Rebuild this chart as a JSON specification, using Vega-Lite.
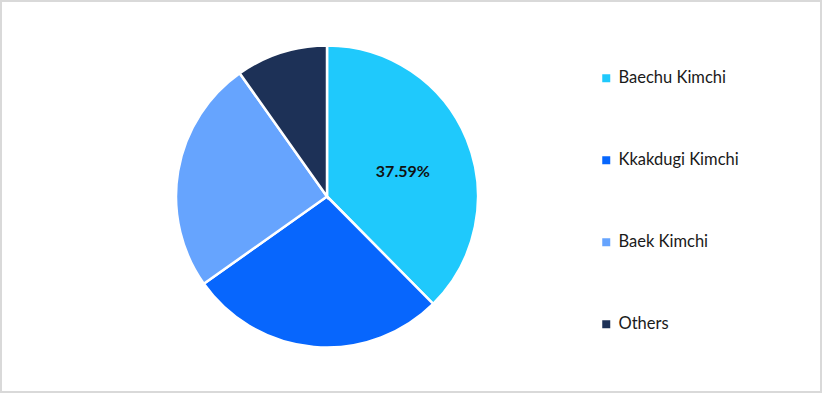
{
  "$schema": "https://vega.github.io/schema/vega-lite/v6.json",
  "width": 822,
  "height": 393,
  "autosize": {"type": "fit", "contains": "padding"},
  "padding": 1,
  "background": "#ffffff",
  "view": {"stroke": "#d9d9d9", "strokeWidth": 2},
  "config": {
    "view": {"stroke": "#d9d9d9", "strokeWidth": 2},
    "font": "Lato"
  },
  "data": {
    "values": [
      {"segment": "Baechu Kimchi", "share": 37.59, "rank": 1, "label": "37.59%"},
      {"segment": "Kkakdugi Kimchi", "share": 27.6, "rank": 2, "label": ""},
      {"segment": "Baek Kimchi", "share": 25.0, "rank": 3, "label": ""},
      {"segment": "Others", "share": 9.81, "rank": 4, "label": ""}
    ]
  },
  "encoding": {
    "theta": {"field": "share", "type": "quantitative", "stack": true},
    "order": {"field": "rank", "type": "quantitative", "sort": "ascending"}
  },
  "layer": [
    {
      "mark": {"type": "arc", "outerRadius": 151, "stroke": "#ffffff", "strokeWidth": 2.5, "xOffset": -84},
      "encoding": {
        "color": {
          "field": "segment",
          "type": "nominal",
          "sort": ["Baechu Kimchi", "Kkakdugi Kimchi", "Baek Kimchi", "Others"],
          "scale": {
            "domain": ["Baechu Kimchi", "Kkakdugi Kimchi", "Baek Kimchi", "Others"],
            "range": ["#1FC9FC", "#0766FD", "#66A4FE", "#1D3157"]
          },
          "legend": {
            "title": null,
            "orient": "none",
            "legendX": 597,
            "legendY": 69,
            "symbolType": "square",
            "symbolSize": 64,
            "symbolStrokeWidth": 0,
            "labelFontSize": 16.5,
            "labelColor": "#1a1a1a",
            "labelFont": "Lato",
            "labelOffset": 4,
            "rowPadding": 65,
            "padding": 0
          }
        }
      }
    },
    {
      "mark": {"type": "text", "radius": 82, "fontSize": 16, "fontWeight": "bold", "color": "#111111", "xOffset": -84, "dy": 7, "font": "Lato"},
      "encoding": {
        "text": {"field": "label", "type": "nominal"}
      }
    }
  ]
}
